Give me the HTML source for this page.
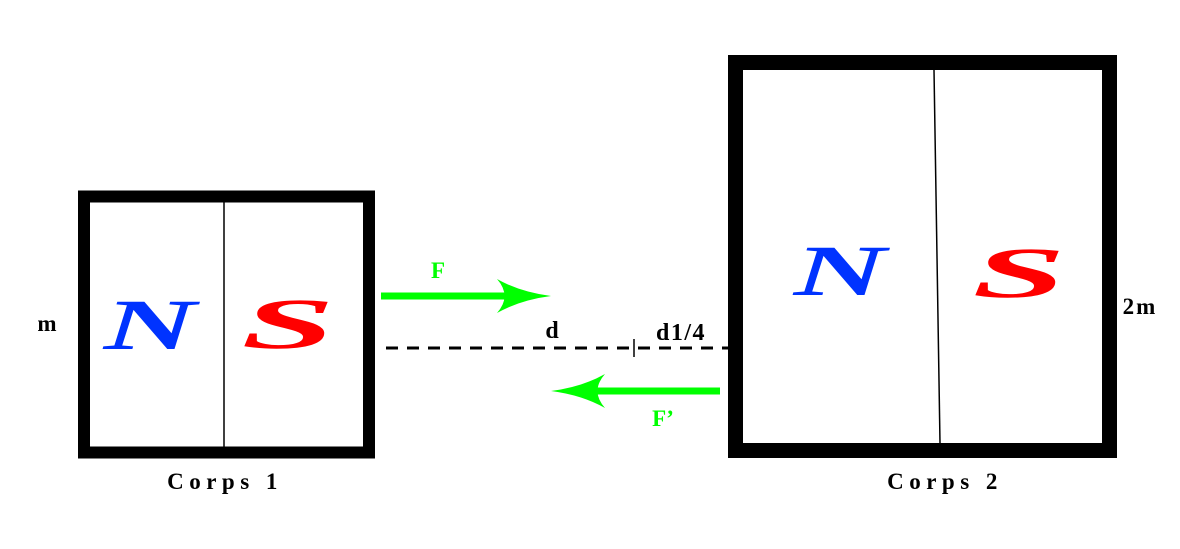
<!DOCTYPE html>
<html><head><meta charset="utf-8"><style>
html,body{margin:0;padding:0;background:#fff;}
svg{display:block}
text{font-family:"Liberation Serif",serif;font-weight:bold}
</style></head><body>
<svg width="1180" height="549" viewBox="0 0 1180 549" xmlns="http://www.w3.org/2000/svg">
<rect width="1180" height="549" fill="#fff"/>
<!-- Corps 1 -->
<rect x="84" y="196.5" width="285" height="256" fill="#fff" stroke="#000" stroke-width="12"/>
<line x1="224" y1="202" x2="224" y2="447" stroke="#000" stroke-width="1.5"/>
<!-- Corps 2 -->
<rect x="735.5" y="62.5" width="374" height="388" fill="#fff" stroke="#000" stroke-width="15"/>
<line x1="934" y1="70" x2="940" y2="443" stroke="#000" stroke-width="1.5"/>
<!-- N S letters -->
<text transform="translate(150,349) scale(1.6,0.9)" font-size="80" fill="#0033ff" font-style="italic" text-anchor="middle">N</text>
<text transform="translate(288,348) scale(2.1,0.9)" font-size="80" fill="#ff0000" font-style="italic" text-anchor="middle">S</text>
<text transform="translate(840,295) scale(1.6,0.9)" font-size="80" fill="#0033ff" font-style="italic" text-anchor="middle">N</text>
<text transform="translate(1019,297) scale(2.1,0.9)" font-size="80" fill="#ff0000" font-style="italic" text-anchor="middle">S</text>
<!-- Arrow F -->
<line x1="381" y1="296" x2="525" y2="296" stroke="#00ff00" stroke-width="7"/>
<path d="M497 279 Q520 292 551 296 Q520 300 497 313 Q512 296 497 279 Z" fill="#00ff00"/>
<text x="438" y="278" font-size="23" fill="#00ff00" text-anchor="middle">F</text>
<!-- Arrow F' -->
<line x1="720" y1="391" x2="575" y2="391" stroke="#00ff00" stroke-width="7"/>
<path d="M605 374 Q582 387 551 391 Q582 395 605 408 Q590 391 605 374 Z" fill="#00ff00"/>
<text x="663" y="426" font-size="23" fill="#00ff00" text-anchor="middle">F’</text>
<!-- dashed -->
<line x1="386" y1="348" x2="728" y2="348" stroke="#000" stroke-width="3" stroke-dasharray="12,9"/>
<line x1="634" y1="339" x2="634" y2="357" stroke="#000" stroke-width="1.5"/>
<text x="552" y="338" font-size="24" fill="#000" text-anchor="middle">d</text>
<text x="681" y="340" font-size="24" fill="#000" text-anchor="middle" letter-spacing="1.5">d1/4</text>
<text x="47" y="331" font-size="23" fill="#000" text-anchor="middle">m</text>
<text x="1140" y="314" font-size="23" fill="#000" text-anchor="middle" letter-spacing="2">2m</text>
<text x="225" y="489" font-size="23" fill="#000" text-anchor="middle" letter-spacing="5.5">Corps 1</text>
<text x="945" y="489" font-size="23" fill="#000" text-anchor="middle" letter-spacing="5.5">Corps 2</text>
</svg>
</body></html>
